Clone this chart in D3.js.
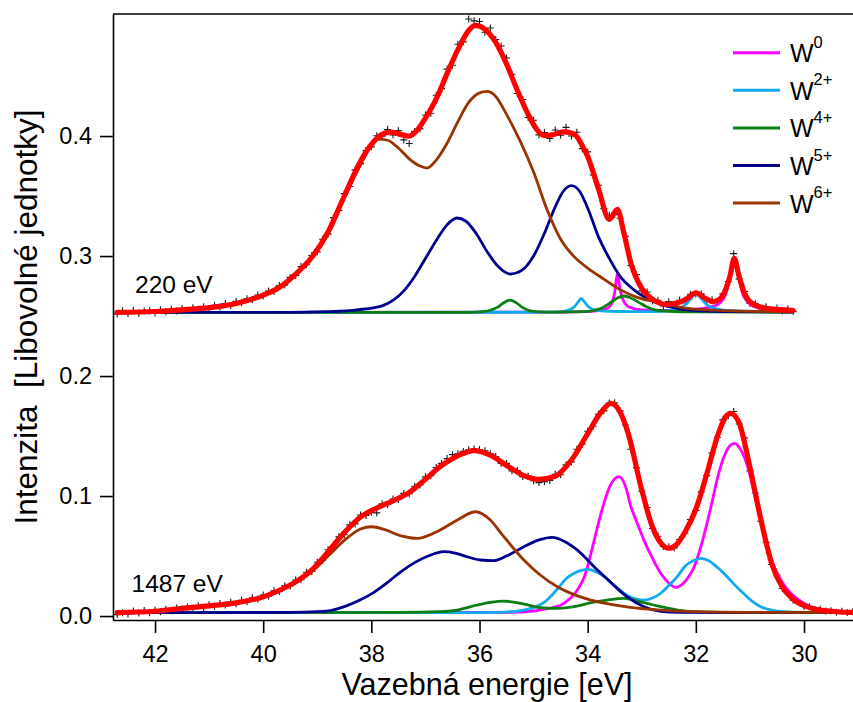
<!DOCTYPE html>
<html>
<head>
<meta charset="utf-8">
<script src="https://cdn.jsdelivr.net/npm/d3@7"></script>
<style>
  html, body { margin: 0; padding: 0; background: #fff; }
  svg { display: block; font-family: "Liberation Sans", Arial, Helvetica, sans-serif; }
</style>
</head>
<body>
<svg id="chart" width="853" height="702"></svg>
<script>
// W 4f spectra measured at two photon energies, with fitted oxidation-state components.
// Measured points: intensity on a regular binding-energy grid (start, step).
const dataStart = 42.7, dataStep = 0.1;

const data220 = [
  .2518,.2544,.2522,.2546,.2524,.2542,.2545,.2526,.2553,.2535,
  .2556,.2541,.2562,.2547,.2569,.2557,.2578,.2560,.2589,.2575,
  .2605,.2587,.2622,.2610,.2645,.2637,.2675,.2667,.2708,.2705,
  .2755,.2758,.2822,.2838,.2912,.2928,.3005,.3035,.3140,.3183,
  .3320,.3380,.3520,.3580,.3718,.3770,.3880,.3910,.4003,.3998,
  .4055,.4010,.4045,.3968,.3938,.4038,.4060,.4175,.4190,.4340,
  .4395,.4558,.4590,.4765,.4785,.4975,.4960,.4955,.4865,.4900,
  .4805,.4750,.4650,.4515,.4355,.4305,.4155,.4132,.4010,.4030,
  .3980,.4050,.4007,.4072,.4000,.4032,.3895,.3868,.3675,.3590,
  .3395,.3340,.3345,.3315,.3165,.2920,.2845,.2710,.2700,.2625,
  .2632,.2585,.2620,.2592,.2632,.2622,.2682,.2684,.2685,.2630,
  .2635,.2612,.2685,.2788,.3020,.2810,.2705,.2605,.2602,.2562,
  .2578,.2550,.2568,.2542,.2559,.2538
];

const data1487 = [
  .0012,.0027,.0017,.0041,.0025,.0046,.0028,.0048,.0036,.0056,
  .0045,.0066,.0058,.0076,.0064,.0086,.0072,.0095,.0081,.0104,
  .0091,.0114,.0102,.0131,.0120,.0153,.0141,.0175,.0166,.0210,
  .0205,.0252,.0250,.0300,.0302,.0365,.0372,.0448,.0465,.0552,
  .0572,.0660,.0678,.0760,.0768,.0842,.0838,.0865,.0860,.0935,
  .0930,.0975,.0972,.1022,.1020,.1082,.1092,.1160,.1170,.1238,
  .1272,.1312,.1345,.1352,.1372,.1385,.1393,.1388,.1377,.1352,
  .1330,.1272,.1272,.1210,.1212,.1162,.1165,.1128,.1112,.1120,
  .1130,.1182,.1178,.1260,.1285,.1390,.1432,.1540,.1582,.1682,
  .1710,.1775,.1778,.1710,.1592,.1390,.1235,.1040,.0905,.0730,
  .0665,.0580,.0578,.0568,.0638,.0690,.0805,.0880,.1035,.1170,
  .1358,.1490,.1635,.1670,.1705,.1600,.1485,.1210,.1025,.0790,
  .0615,.0430,.0340,.0230,.0195,.0132,.0118,.0080,.0078,.0055,
  .0057,.0041,.0045,.0032,.0039,.0029,.0035
];

// Fit envelopes [binding energy eV, intensity]
const fit220 = [
  [42.7,.2530],[42.0,.2538],[41.5,.2552],[41.0,.2570],[40.5,.2605],[40.0,.2675],[39.7,.2740],
  [39.4,.2850],[39.1,.2990],[38.8,.3200],[38.5,.3500],[38.2,.3790],[38.0,.3930],[37.8,.4015],
  [37.65,.4032],[37.45,.4012],[37.3,.4000],[37.15,.4050],[37.0,.4150],[36.8,.4310],[36.6,.4520],
  [36.4,.4720],[36.2,.4880],[36.08,.4922],[35.9,.4890],[35.7,.4780],[35.5,.4600],[35.3,.4380],
  [35.1,.4180],[34.95,.4060],[34.8,.4005],[34.65,.4010],[34.45,.4035],[34.3,.4025],[34.2,.3995],
  [34.1,.3920],[34.0,.3830],[33.8,.3560],[33.6,.3305],[33.45,.3390],[33.33,.3190],[33.2,.2940],
  [33.0,.2730],[32.8,.2640],[32.55,.2598],[32.3,.2615],[32.15,.2650],[32.0,.2694],[31.85,.2655],
  [31.68,.2620],[31.55,.2645],[31.45,.2720],[31.37,.2830],[31.29,.2980],[31.2,.2830],[31.1,.2690],
  [31.0,.2620],[30.8,.2575],[30.5,.2555],[30.2,.2546]
];
const fit1487 = [
  [42.7,.0029],[42.0,.0040],[41.5,.0064],[41.0,.0085],[40.5,.0110],[40.0,.0160],[39.7,.0215],
  [39.4,.0285],[39.1,.0385],[38.8,.0535],[38.5,.0695],[38.2,.0825],[37.9,.0900],[37.6,.0960],
  [37.3,.1030],[37.0,.1140],[36.7,.1255],[36.4,.1335],[36.1,.1378],[35.8,.1340],[35.5,.1255],
  [35.2,.1175],[34.9,.1139],[34.6,.1165],[34.3,.1300],[34.0,.1520],[33.75,.1700],[33.57,.1772],
  [33.4,.1700],[33.25,.1520],[33.0,.1050],[32.8,.0740],[32.65,.0610],[32.5,.0565],[32.35,.0600],
  [32.2,.0700],[32.0,.0890],[31.8,.1180],[31.6,.1500],[31.45,.1660],[31.36,.1690],[31.2,.1610],
  [31.0,.1240],[30.8,.0810],[30.6,.0440],[30.4,.0240],[30.2,.0140],[29.9,.0070],[29.5,.0040],
  [29.1,.0030]
];

// Components, 220 eV
const w0_220 = [
  [42.7,.2530],[34.4,.2533],[34.0,.2537],[33.8,.2545],[33.65,.2562],[33.56,.2600],[33.5,.2700],
  [33.45,.2856],[33.4,.2720],[33.35,.2640],[33.27,.2585],[33.15,.2562],[33.0,.2552],[32.6,.2547],
  [32.2,.2552],[31.9,.2562],[31.7,.2578],[31.55,.2610],[31.45,.2680],[31.38,.2800],[31.29,.2983],
  [31.2,.2800],[31.13,.2680],[31.05,.2620],[30.9,.2575],[30.7,.2556],[30.45,.2548],[30.2,.2544]
];
const w2_220 = [
  [42.7,.2530],[34.8,.2532],[34.5,.2537],[34.35,.2550],[34.24,.2580],[34.17,.2620],[34.12,.2647],
  [34.06,.2618],[33.98,.2575],[33.85,.2550],[33.6,.2540],[33.2,.2536],[32.8,.2537],[32.5,.2545],
  [32.3,.2565],[32.18,.2600],[32.08,.2650],[32.0,.2689],[31.92,.2655],[31.82,.2605],[31.7,.2570],
  [31.5,.2550],[31.1,.2540],[30.6,.2536],[30.2,.2534]
];
const w4_220 = [
  [42.7,.2530],[36.2,.2531],[35.95,.2537],[35.8,.2548],[35.68,.2570],[35.56,.2608],[35.44,.2633],
  [35.32,.2610],[35.2,.2570],[35.08,.2545],[34.9,.2535],[34.5,.2533],[34.1,.2536],[33.9,.2545],
  [33.75,.2565],[33.6,.2605],[33.45,.2650],[33.33,.2667],[33.2,.2650],[33.05,.2612],[32.9,.2575],
  [32.75,.2552],[32.5,.2540],[32.0,.2535],[30.2,.2532]
];
const w5_220 = [
  [42.7,.2530],[39.5,.2531],[39.0,.2535],[38.6,.2540],[38.3,.2550],[38.0,.2565],[37.8,.2585],
  [37.6,.2630],[37.4,.2710],[37.2,.2830],[37.0,.2980],[36.8,.3130],[36.6,.3260],[36.42,.3317],
  [36.25,.3290],[36.05,.3180],[35.85,.3030],[35.65,.2910],[35.43,.2850],[35.22,.2880],[35.0,.3000],
  [34.8,.3190],[34.6,.3410],[34.45,.3540],[34.3,.3586],[34.15,.3540],[34.0,.3400],[33.8,.3160],
  [33.6,.2980],[33.4,.2830],[33.15,.2720],[32.9,.2645],[32.6,.2590],[32.3,.2560],[31.9,.2543],
  [31.3,.2536],[30.2,.2533]
];
const w6_220 = [
  [42.7,.2530],[42.0,.2538],[41.5,.2551],[41.0,.2568],[40.5,.2603],[40.0,.2668],[39.7,.2732],
  [39.4,.2840],[39.1,.2985],[38.8,.3190],[38.5,.3485],[38.2,.3760],[38.0,.3920],[37.87,.3975],
  [37.7,.3965],[37.5,.3900],[37.3,.3810],[37.1,.3750],[36.97,.3733],[36.8,.3800],[36.6,.3940],
  [36.4,.4120],[36.2,.4280],[36.0,.4360],[35.86,.4372],[35.7,.4330],[35.5,.4180],[35.25,.3960],
  [35.0,.3700],[34.75,.3385],[34.5,.3140],[34.25,.2995],[34.0,.2900],[33.7,.2808],[33.4,.2720],
  [33.1,.2658],[32.77,.2620],[32.4,.2585],[32.15,.2564],[31.8,.2552],[31.3,.2543],[30.6,.2537],
  [30.2,.2535]
];

// Components, 1487 eV
const w0_1487 = [
  [42.7,.0028],[35.5,.0030],[35.0,.0042],[34.7,.0065],[34.44,.0106],[34.19,.0217],[34.05,.0340],
  [33.94,.0520],[33.82,.0740],[33.7,.0939],[33.58,.1090],[33.42,.1161],[33.3,.1080],[33.2,.0911],
  [33.08,.0770],[32.96,.0633],[32.8,.0480],[32.65,.0356],[32.5,.0275],[32.37,.0239],[32.25,.0265],
  [32.13,.0330],[32.03,.0411],[31.9,.0590],[31.8,.0760],[31.72,.0911],[31.6,.1150],[31.48,.1328],
  [31.29,.1439],[31.15,.1370],[31.04,.1244],[30.92,.1020],[30.8,.0800],[30.68,.0590],[30.55,.0411],
  [30.4,.0280],[30.24,.0189],[30.05,.0120],[29.87,.0078],[29.5,.0045],[29.1,.0035]
];
const w2_1487 = [
  [42.7,.0028],[36.0,.0029],[35.5,.0033],[35.18,.0050],[35.0,.0070],[34.8,.0115],[34.56,.0225],
  [34.4,.0310],[34.25,.0356],[34.12,.0380],[34.0,.0389],[33.85,.0370],[33.7,.0330],[33.55,.0270],
  [33.4,.0215],[33.25,.0168],[33.1,.0142],[32.95,.0133],[32.8,.0150],[32.65,.0190],[32.5,.0255],
  [32.34,.0330],[32.2,.0415],[32.05,.0460],[31.91,.0480],[31.78,.0465],[31.6,.0405],[31.42,.0328],
  [31.25,.0245],[31.11,.0185],[30.95,.0120],[30.8,.0078],[30.6,.0050],[30.37,.0036],[30.0,.0030],
  [29.1,.0028]
];
const w4_1487 = [
  [42.7,.0028],[37.5,.0030],[36.72,.0036],[36.41,.0050],[36.04,.0092],[35.8,.0114],[35.55,.0125],
  [35.18,.0100],[34.87,.0069],[34.56,.0064],[34.25,.0078],[33.94,.0111],[33.64,.0133],[33.33,.0147],
  [32.96,.0111],[32.65,.0078],[32.34,.0050],[32.03,.0036],[31.5,.0030],[29.1,.0028]
];
const w5_1487 = [
  [42.7,.0028],[39.5,.0030],[39.0,.0036],[38.7,.0052],[38.46,.0085],[38.2,.0135],[37.96,.0195],
  [37.7,.0280],[37.45,.0370],[37.2,.0445],[36.95,.0500],[36.66,.0536],[36.45,.0525],[36.23,.0494],
  [35.98,.0467],[35.74,.0461],[35.5,.0500],[35.18,.0578],[34.9,.0635],[34.66,.0656],[34.42,.0620],
  [34.19,.0550],[33.82,.0383],[33.57,.0280],[33.39,.0203],[33.27,.0160],[32.96,.0078],[32.65,.0040],
  [32.3,.0031],[29.1,.0028]
];
const w6_1487 = [
  [42.7,.0028],[42.0,.0040],[41.5,.0063],[41.0,.0083],[40.5,.0108],[40.0,.0157],[39.7,.0210],
  [39.4,.0278],[39.1,.0370],[38.8,.0500],[38.5,.0630],[38.2,.0725],[38.0,.0744],[37.75,.0720],
  [37.45,.0668],[37.15,.0647],[36.8,.0700],[36.41,.0800],[36.07,.0869],[35.8,.0800],[35.6,.0689],
  [35.18,.0467],[34.9,.0350],[34.56,.0244],[34.2,.0170],[33.94,.0133],[33.4,.0085],[33.0,.0062],
  [32.5,.0045],[32.0,.0037],[31.0,.0031],[29.1,.0029]
];

const stateNames = ["0", "2+", "4+", "5+", "6+"];
const stateColors = ["#ff00ff", "#10aaf0", "#0b7f14", "#00008f", "#993300"];
const xTicks = [42, 40, 38, 36, 34, 32, 30];
const yTicks = [0.0, 0.1, 0.2, 0.3, 0.4];
const spectrumLabels = ["220 eV", "1487 eV"];

const svg = d3.select("#chart");
const plotLeft = 113, plotRight = 853, plotTop = 14, plotBottom = 620;

const x = d3.scaleLinear().domain([42.777, 29.094]).range([plotLeft, plotRight]);
const y = d3.scaleLinear().domain([-0.0033, 0.5017]).range([plotBottom, plotTop]);

const line = d3.line()
  .x(d => x(d[0]))
  .y(d => y(d[1]))
  .curve(d3.curveMonotoneX);

svg.append("defs").append("clipPath").attr("id", "plot")
  .append("rect").attr("x", plotLeft).attr("y", plotTop)
  .attr("width", plotRight - plotLeft).attr("height", plotBottom - plotTop);

const plot = svg.append("g").attr("clip-path", "url(#plot)");

const spectra = [
  { data: data220, fit: fit220, parts: [w0_220, w2_220, w4_220, w5_220, w6_220] },
  { data: data1487, fit: fit1487, parts: [w0_1487, w2_1487, w4_1487, w5_1487, w6_1487] }
];

// measured points as small crosses
spectra.forEach(s => {
  const pts = s.data.map((v, i) => [dataStart - i * dataStep, v]);
  plot.append("g")
    .selectAll("path")
    .data(pts)
    .join("path")
    .attr("transform", d => `translate(${x(d[0])},${y(d[1])})`)
    .attr("d", "M-3.5,0H3.5M0,-3.5V3.5")
    .attr("stroke", "#1a1a1a")
    .attr("stroke-width", 1.1)
    .attr("fill", "none");
});

// fitted components
spectra.forEach(s => {
  s.parts.forEach((p, k) => {
    plot.append("path")
      .datum(p)
      .attr("d", line)
      .attr("fill", "none")
      .attr("stroke", stateColors[k])
      .attr("stroke-width", 2.8)
      .attr("stroke-linejoin", "round");
  });
});

// fit envelopes
spectra.forEach(s => {
  plot.append("path")
    .datum(s.fit)
    .attr("d", line)
    .attr("fill", "none")
    .attr("stroke", "#ff0000")
    .attr("stroke-width", 5.2)
    .attr("stroke-linejoin", "round")
    .attr("stroke-linecap", "round");
});

// axes
const yAxis = d3.axisLeft(y).tickValues(yTicks).tickFormat(d3.format(".1f"))
  .tickSizeInner(13).tickSizeOuter(0).tickPadding(8);
const xAxis = d3.axisBottom(x).tickValues(xTicks).tickFormat(d3.format("d"))
  .tickSizeInner(13).tickSizeOuter(0).tickPadding(12);

const gy = svg.append("g").attr("transform", `translate(${plotLeft},0)`).call(yAxis);
const gx = svg.append("g").attr("transform", `translate(0,${plotBottom})`).call(xAxis);
[gx, gy].forEach(g => {
  g.selectAll("path, line").attr("stroke", "#000").attr("stroke-width", 1.6);
  g.selectAll("text").attr("fill", "#000").style("font-size", "23.5px")
    .style("font-family", '"Liberation Sans", Arial, sans-serif');
});

svg.append("line")
  .attr("x1", plotLeft).attr("x2", plotRight).attr("y1", plotTop).attr("y2", plotTop)
  .attr("stroke", "#000").attr("stroke-width", 1.6);

// axis titles
svg.append("text")
  .attr("x", 487).attr("y", 694.5)
  .attr("text-anchor", "middle")
  .style("font-size", "30.5px")
  .text("Vazebná energie [eV]");

svg.append("text")
  .attr("transform", "translate(37,317) rotate(-90)")
  .attr("text-anchor", "middle")
  .style("font-size", "31.5px")
  .text("Intenzita \u00a0[Libovolné jednotky]");

// spectrum labels
svg.append("text").attr("x", 135).attr("y", 292.5).style("font-size", "24.5px").text(spectrumLabels[0]);
svg.append("text").attr("x", 131.5).attr("y", 591.5).style("font-size", "24.5px").text(spectrumLabels[1]);

// legend
const legend = svg.append("g");
stateNames.forEach((n, i) => {
  const ly = 52.7 + i * 37.6;
  legend.append("line")
    .attr("x1", 733).attr("x2", 780).attr("y1", ly).attr("y2", ly)
    .attr("stroke", stateColors[i]).attr("stroke-width", 3);
  const t = legend.append("text")
    .attr("x", 790).attr("y", ly + 9.5)
    .style("font-size", "25px");
  t.append("tspan").text("W");
  t.append("tspan").attr("dy", -14.5).style("font-size", "16.5px").text(n);
});
</script>
</body>
</html>
